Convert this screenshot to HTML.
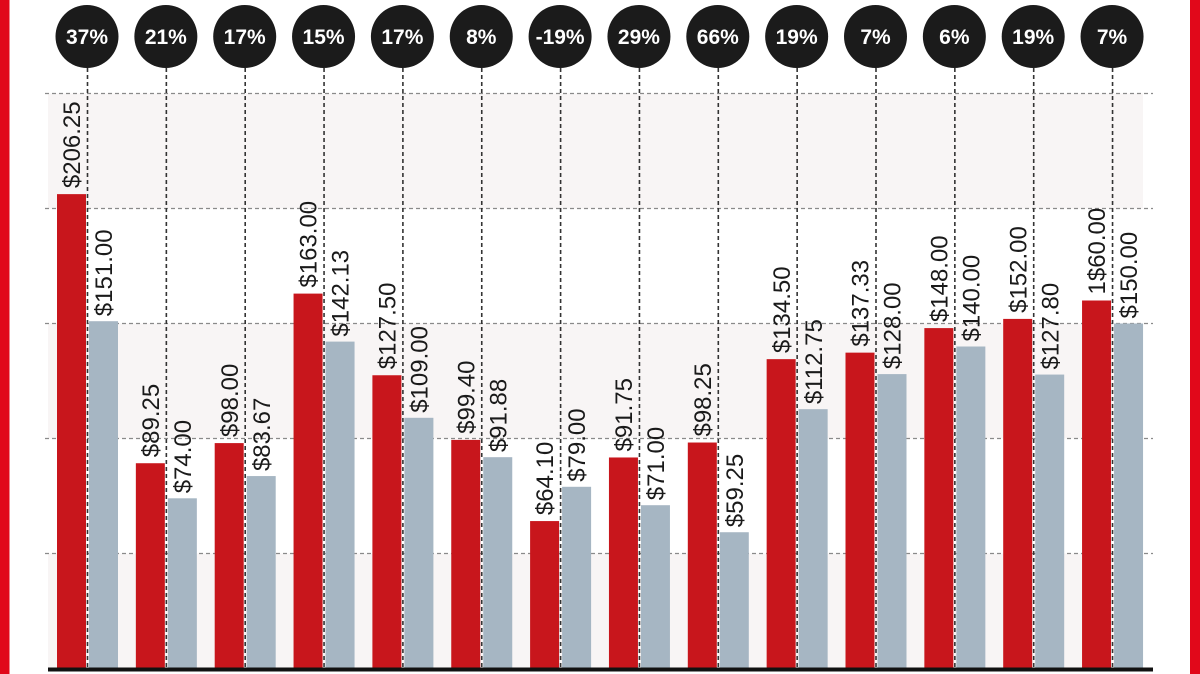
<!DOCTYPE html>
<html>
<head>
<meta charset="utf-8">
<style>
  html, body { margin:0; padding:0; background:#fff; }
  body { width:1200px; height:674px; overflow:hidden; }
  svg { display:block; }
  .lbl { font-family:"Liberation Sans", sans-serif; font-size:24px; fill:#1a1a1a; }
  .pct { font-family:"Liberation Sans", sans-serif; font-size:21px; font-weight:bold; fill:#fff; }
</style>
</head>
<body>
<svg width="1200" height="674" viewBox="0 0 1200 674" xmlns="http://www.w3.org/2000/svg">
  <rect x="0" y="0" width="1200" height="674" fill="#ffffff"/>
  <!-- bands -->
  <rect x="48" y="93.5" width="1095" height="115" fill="#f8f5f5"/>
  <rect x="48" y="323.5" width="1095" height="115" fill="#f8f5f5"/>
  <rect x="48" y="553.5" width="1095" height="115" fill="#f8f5f5"/>
  <!-- gridlines -->
  <g stroke="#8a8a8a" stroke-width="1.3" stroke-dasharray="4 3">
    <line x1="45" y1="93.5" x2="1153" y2="93.5"/>
    <line x1="45" y1="208.5" x2="1153" y2="208.5"/>
    <line x1="45" y1="323.5" x2="1153" y2="323.5"/>
    <line x1="45" y1="438.5" x2="1153" y2="438.5"/>
    <line x1="45" y1="553.5" x2="1153" y2="553.5"/>
  </g>
  <g id="chart"></g>
  <!-- baseline -->
  <rect x="48" y="667.5" width="1105" height="4" fill="#111"/>
  <!-- red borders -->
  <rect x="0" y="0" width="9.5" height="674" fill="#e1081a"/>
  <rect x="1190" y="0" width="10" height="674" fill="#e1081a"/>
</svg>
<script>
(function(){
  var data = [
    ["37%",206.25,"$206.25",151.00,"$151.00"],
    ["21%",89.25,"$89.25",74.00,"$74.00"],
    ["17%",98.00,"$98.00",83.67,"$83.67"],
    ["15%",163.00,"$163.00",142.13,"$142.13"],
    ["17%",127.50,"$127.50",109.00,"$109.00"],
    ["8%",99.40,"$99.40",91.88,"$91.88"],
    ["-19%",64.10,"$64.10",79.00,"$79.00"],
    ["29%",91.75,"$91.75",71.00,"$71.00"],
    ["66%",98.25,"$98.25",59.25,"$59.25"],
    ["19%",134.50,"$134.50",112.75,"$112.75"],
    ["7%",137.33,"$137.33",128.00,"$128.00"],
    ["6%",148.00,"$148.00",140.00,"$140.00"],
    ["19%",152.00,"$152.00",127.80,"$127.80"],
    ["7%",160.00,"1$60.00",150.00,"$150.00"]
  ];
  var NS="http://www.w3.org/2000/svg";
  var g=document.getElementById("chart");
  function el(name, attrs, text){
    var e=document.createElementNS(NS,name);
    for(var k in attrs) e.setAttribute(k,attrs[k]);
    if(text!==undefined) e.textContent=text;
    g.appendChild(e); return e;
  }
  var y0=668.5, s=2.3;
  data.forEach(function(d,i){
    var c=86+78.85*i;
    // vertical dashed line
    el("line",{x1:c+1.5,y1:68,x2:c+1.5,y2:668,stroke:"#333","stroke-width":1.6,"stroke-dasharray":"4 3"});
  });
  data.forEach(function(d,i){
    var c=86+78.85*i;
    var rTop=y0-d[1]*s, bTop=y0-d[3]*s;
    el("rect",{x:c-29,y:rTop,width:29,height:y0-rTop,fill:"#c8161c"});
    el("rect",{x:c+3,y:bTop,width:29,height:y0-bTop,fill:"#a6b6c3"});
    // labels
    var rx=c-14.5, bx=c+17.5;
    el("text",{"class":"lbl",transform:"translate("+rx+","+(rTop-6)+") rotate(-90)",x:0,y:0,dy:"0.36em"},d[2]);
    el("text",{"class":"lbl",transform:"translate("+bx+","+(bTop-5)+") rotate(-90)",x:0,y:0,dy:"0.36em"},d[4]);
    // circles
    el("circle",{cx:c+1,cy:36.5,r:31.5,fill:"#1b1b1b"});
    el("text",{"class":"pct",x:c+1,y:44,"text-anchor":"middle"},d[0]);
  });
})();
</script>
</body>
</html>
